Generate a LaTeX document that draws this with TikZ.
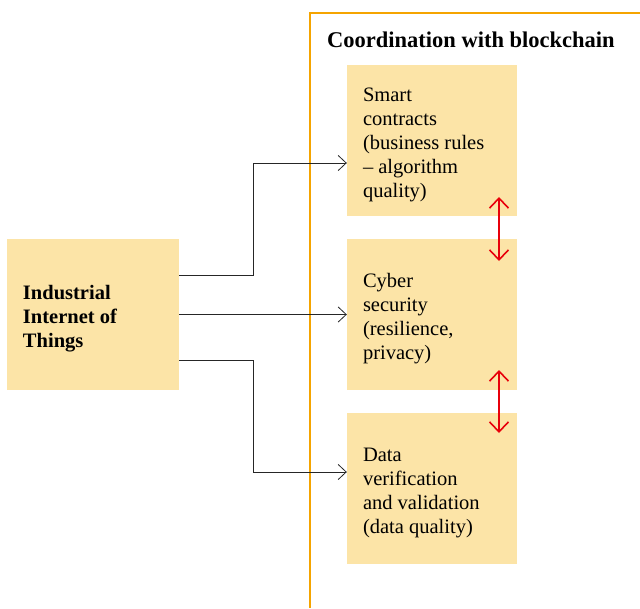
\documentclass[tikz,border=0pt]{standalone}
\usepackage{fontspec}
\setmainfont{Liberation Serif}
\usetikzlibrary{arrows.meta}
\definecolor{boxfill}{HTML}{FCE4A7}
\definecolor{frameorange}{HTML}{F5A400}
\definecolor{linkred}{HTML}{E8000B}
\tikzset{
  card/.style={fill=boxfill, draw=none, minimum height=151pt,
    inner xsep=16pt, inner ysep=0pt, align=flush left,
    font=\fontsize{20.5}{24}\selectfont,
    execute at begin node={\rule{0pt}{22.5pt}}},
  conn/.style={draw=black!85, line width=0.8pt,
    -{Straight Barb[length=8pt,width=15pt,line width=0.8pt]}},
  redlink/.style={draw=linkred, line width=1.6pt,
    {Straight Barb[length=10pt,width=19pt]}-{Straight Barb[length=10pt,width=19pt]}}
}
\begin{document}
\begin{tikzpicture}[x=1pt,y=-1pt]
  \useasboundingbox (0,0) rectangle (640,608);
  % blockchain frame, open to the right and bottom
  \draw[frameorange, line width=1.2pt] (310,608) -- (310,13) -- (640,13);
  \node[anchor=west, inner sep=0pt, font=\fontsize{22.5}{24}\selectfont\bfseries]
    (title) at (327,40) {Coordination with blockchain};

  % source
  \node[card, text width=140pt] (iiot) at (93,314.5)
    {\bfseries Industrial\\\bfseries Internet of\\\bfseries Things};

  % blockchain components
  \node[card, text width=138pt] (sc) at (432,140.5)
    {Smart\\contracts\\(business rules\\– algorithm\\quality)};
  \node[card, text width=138pt] (cs) at (432,314.5)
    {Cyber\\security\\(resilience,\\privacy)};
  \node[card, text width=138pt] (dv) at (432,488.5)
    {Data\\verification\\and validation\\(data quality)};

  % connectors from the source
  \draw[conn] ([yshift=39.5pt]iiot.east) -- (253,275) |- ([yshift=-22.5pt]sc.west);
  \draw[conn] (iiot.east) -- (cs.west);
  \draw[conn] ([yshift=-45.5pt]iiot.east) -- (253,360) |- ([yshift=16.5pt]dv.west);

  % links between components
  \coordinate (a1) at (499,197);
  \coordinate (a2) at (499,261);
  \coordinate (b1) at (499,370);
  \coordinate (b2) at (499,433);
  \draw[redlink] (a1) -- (a2);
  \draw[redlink] (b1) -- (b2);
\end{tikzpicture}
\end{document}
